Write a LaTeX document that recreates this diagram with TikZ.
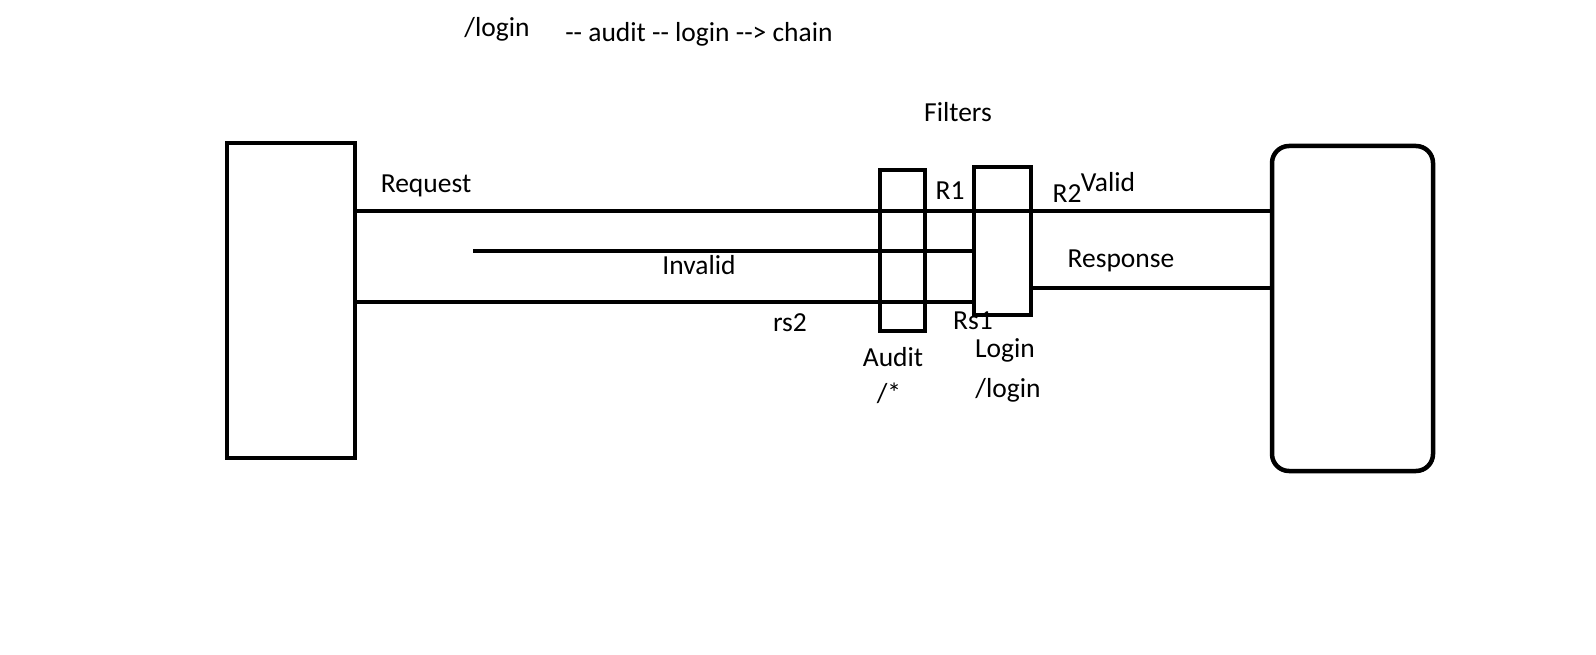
\documentclass[tikz,border=0pt]{standalone}
\usepackage{fontspec}
\setmainfont{Carlito}
\usepackage{tikz}
\usetikzlibrary{positioning}

\begin{document}
\begin{tikzpicture}[x=1pt,y=-1pt,line width=4.5pt,
  box/.style={draw,rectangle,inner sep=0pt},
  lbl/.style={inner sep=0pt,text height=1.5ex,text depth=.25ex,yshift=-7pt},
  font=\fontsize{27.5}{33}\selectfont]
\useasboundingbox (0,0) rectangle (1596,655);
\node[box,minimum width=128,minimum height=315] (client) at (291,300.5) {};
\node[box,minimum width=161,minimum height=325,rounded corners=17] (server) at (1352.5,308.5) {};
\node[box,minimum width=45,minimum height=161] (audit) at (902.5,250.5) {};
\node[box,minimum width=57,minimum height=148] (login) at (1002.5,241) {};
\coordinate (inv) at (473,251);
\draw (client.east |- 0,211) -- (server.west |- 0,211);
\draw (inv) -- (login.west |- inv);
\draw (client.east |- 0,302) -- (login.west |- 0,302);
\draw (login.east |- 0,288) -- (server.west |- 0,288);
\node[lbl] (path) at (497,27) {/login};
\node[lbl] (chain) at (699,32) {-{}- audit -{}- login -{}-{}> chain};
\node[lbl] (filters) at (958,112) {Filters};
\node[lbl] (req) at (426,183) {Request};
\node[lbl] (r1) at (950,190) {R1};
\node[lbl] (r2) at (1067,193) {R2};
\node[lbl] (valid) at (1108,182) {Valid};
\node[lbl] (invalid) at (699,265) {Invalid};
\node[lbl] (resp) at (1121,258) {Response};
\node[lbl] (rs2) at (790,322) {rs2};
\node[lbl] (rs1) at (973,320) {Rs1};
\node[lbl] (auditname) at (893,357) {Audit};
\node[lbl] (auditmap) at (889,393) {/*};
\node[lbl] (loginname) at (1005,348) {Login};
\node[lbl] (loginmap) at (1008,388) {/login};
\end{tikzpicture}
\end{document}
